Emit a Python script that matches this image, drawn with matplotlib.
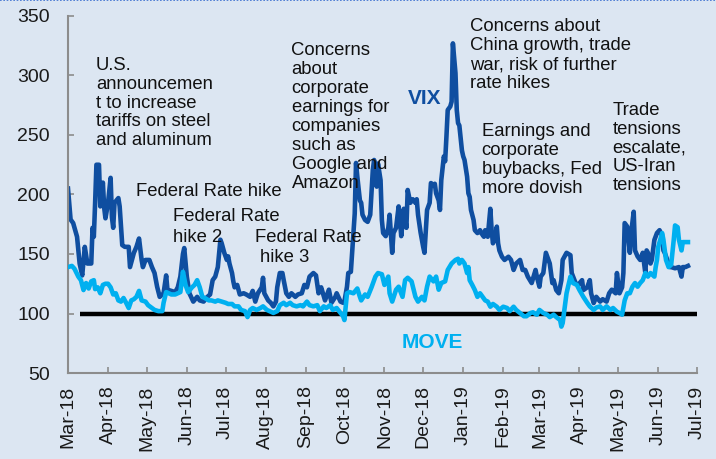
import matplotlib
matplotlib.use("Agg")
import matplotlib.pyplot as plt
import matplotlib.dates as mdates
import pandas as pd
from matplotlib.lines import Line2D

plt.rcParams['font.family'] = ['Liberation Sans', 'DejaVu Sans']

# ---- data (days since 2018-03-01, index value) ----
start = pd.Timestamp('2018-03-01')

vix_days = [0, 2, 4, 7, 9, 11, 13, 15, 18, 19, 20, 21, 22, 24, 25, 27, 28, 29, 31, 33,
            34, 35, 36, 39, 40, 42, 44, 47, 48, 51, 53, 55, 57, 58, 60, 63, 65, 67, 69, 71,
            74, 76, 77, 80, 83, 85, 87, 89, 90, 92, 94, 97, 100, 102, 105, 107, 110, 112, 114, 116,
            118, 119, 121, 123, 124, 125, 127, 128, 129, 131, 133, 136, 138, 141, 143, 145, 147, 150, 151, 152,
            155, 157, 159, 161, 162, 164, 166, 167, 169, 171, 173, 176, 178, 181, 183, 185, 187, 190, 192, 194,
            196, 199, 202, 204, 207, 208, 211, 213, 214, 216, 217, 219, 220, 222, 223, 224, 226, 227, 228, 230,
            232, 234, 236, 237, 239, 240, 242, 243, 244, 246, 248, 249, 251, 252, 254, 256, 257, 258, 260, 262,
            263, 265, 267, 269, 270, 271, 273, 275, 276, 278, 280, 281, 283, 284, 285, 287, 288, 289, 291, 292,
            293, 294, 296, 297, 298, 300, 301, 302, 303, 305, 306, 307, 309, 310, 311, 312, 314, 315, 317, 319,
            320, 322, 323, 325, 327, 328, 329, 331, 332, 333, 334, 336, 338, 341, 343, 345, 347, 350, 352, 354,
            356, 359, 362, 363, 365, 366, 368, 370, 371, 373, 375, 376, 378, 380, 382, 383, 386, 389, 390, 393,
            395, 398, 399, 402, 404, 405, 407, 409, 412, 414, 417, 419, 421, 424, 425, 427, 429, 430, 431, 433,
            435, 436, 438, 439, 441, 443, 445, 447, 448, 449, 451, 452, 454, 456, 458, 460, 461, 462, 464, 466,
            467, 470, 473, 475, 476, 478, 480]
vix_vals = [205, 179, 176, 164.5, 142, 132, 156, 142, 142, 172, 164.5, 193, 225, 225, 190, 210, 189, 180, 193, 214,
            181, 172, 193, 197, 190, 157.5, 156, 156, 139, 151, 156, 163, 145, 139, 145, 145, 139, 134, 122.5, 114,
            117, 132, 120, 119, 118, 122, 131, 150, 155, 131, 117, 110, 114, 111, 110, 113, 116, 128, 131, 139,
            162, 159, 151, 145, 148, 142, 134, 127, 122, 124, 116, 117, 116, 114, 119, 110, 117, 122, 130, 117,
            111, 109, 106, 110, 122, 134, 134, 128, 117, 114, 117, 114, 116, 117, 124, 122, 131, 134, 132, 117,
            122, 111, 120, 109, 114, 117, 110, 109, 110, 122.5, 134, 135, 151, 184, 226.5, 215, 195, 193, 183, 178.6,
            177, 183, 220.6, 229, 206.6, 226, 212, 178.6, 167.6, 165, 172, 183, 151, 167.6, 172, 190, 178.6, 165, 188, 172,
            203.8, 193, 196, 193, 196, 183, 168, 156, 151, 187, 193, 209.6, 208, 209, 201, 195, 187, 212, 232, 228,
            248.6, 271, 274, 278, 327, 302, 271, 260, 258, 237, 232, 229, 215, 201, 198, 187, 178.6, 170, 167.6, 170,
            167.6, 164.5, 170, 164.5, 188, 170, 159, 164.5, 173, 159, 153, 147.7, 145, 147.7, 145, 136.6, 142, 145, 136.6, 136.6,
            131, 125.6, 136.6, 131, 122.5, 131, 134, 151, 148, 142, 125.6, 128, 119.7, 117, 128, 145, 151, 149, 134, 125.6,
            124, 128, 119.7, 122, 128, 117, 108.8, 114, 110, 112, 110, 117, 120, 117, 134, 117, 122, 134, 176, 173,
            151, 167.6, 185.5, 153, 148, 145, 151, 134, 153, 151, 142, 145, 161.8, 167.6, 170, 165, 153, 151, 145, 139,
            139, 138, 139, 131, 139, 139, 140]

move_days = [0, 3, 5, 8, 10, 12, 14, 16, 18, 20, 21, 23, 25, 27, 29, 31, 33, 35, 37, 39,
             41, 43, 45, 47, 49, 51, 53, 55, 57, 60, 62, 65, 67, 70, 73, 74, 76, 78, 80, 83,
             85, 87, 89, 91, 93, 96, 98, 100, 102, 104, 106, 109, 111, 114, 116, 119, 122, 124, 127, 129,
             132, 134, 137, 139, 141, 143, 146, 149, 151, 154, 156, 159, 162, 164, 167, 169, 172, 174, 177, 180,
             182, 185, 187, 190, 193, 195, 198, 200, 203, 205, 208, 211, 213, 214, 216, 218, 221, 224, 226, 227,
             230, 232, 235, 238, 240, 243, 245, 248, 249, 251, 254, 256, 259, 261, 263, 266, 269, 271, 274, 276,
             278, 280, 283, 285, 287, 289, 292, 294, 297, 300, 302, 303, 305, 307, 309, 310, 311, 313, 315, 317,
             319, 321, 323, 325, 327, 329, 332, 334, 337, 340, 342, 345, 347, 350, 353, 355, 358, 360, 363, 365,
             368, 371, 373, 376, 378, 381, 382, 383, 386, 389, 391, 394, 396, 399, 402, 404, 407, 409, 412, 414,
             417, 420, 422, 425, 427, 429, 431, 433, 435, 437, 439, 441, 443, 445, 447, 449, 451, 454, 455, 456,
             457, 460, 461, 463, 465, 467, 469, 470, 472, 473, 475, 476, 478, 480]
move_vals = [139, 140, 137.6, 131, 128, 119.7, 125.6, 121, 127, 128, 120.5, 122, 117, 124, 125, 125, 122, 116, 117, 111,
             110, 113, 109, 104.6, 111, 112, 114, 119, 111, 110, 107, 104.6, 103, 102, 102, 109, 118, 117, 116, 116,
             117, 118, 135, 124, 118, 122, 124, 128, 122, 114, 113, 111, 111, 110, 111, 110, 109, 108, 108, 106,
             106, 103, 102, 97, 103, 104.6, 103, 104.6, 106, 103, 102, 100.5, 102, 107, 109, 107, 109, 107, 106, 107,
             106, 110, 107, 106, 107, 102, 106, 104.6, 107, 103, 104.6, 100.5, 97.7, 94.5, 117, 118, 117, 121, 114, 111,
             116, 114, 122, 131, 134, 133, 124, 131, 117, 110, 120, 122.5, 114, 128, 130, 127, 114, 110, 114, 111,
             122.5, 131, 127, 131, 120, 125.6, 127, 136.6, 142, 145, 146, 142, 145, 142, 134, 139, 128, 124, 119.7, 114,
             117, 114, 111, 110, 105.7, 108, 105.7, 103, 105.7, 104.6, 102, 105.7, 103, 100.4, 97.7, 97.7, 100.4, 101, 99, 103,
             100.4, 99, 97, 99, 97, 94.5, 89, 92, 117, 131, 125.6, 124, 119.7, 114, 109, 106, 103, 105, 106, 103,
             106, 103, 104.6, 101.5, 100.4, 99, 111, 117, 117, 122.5, 125.6, 122.5, 125.6, 128, 134, 131, 134, 131, 139, 145,
             156, 167.6, 162, 145, 139, 141, 162, 174, 172.5, 162, 153, 160, 160, 160]

ref_level = 100
ref_start_day = 9
month_ticks = pd.date_range('2018-03-01', '2019-07-01', freq='MS')

vix_dates = start + pd.to_timedelta(vix_days, unit='D')
move_dates = start + pd.to_timedelta(move_days, unit='D')

# ---- styling ----
bg = '#dce6f2'
vix_color = '#0f4ea0'
move_color = '#00b0f0'

fig = plt.figure(figsize=(7.16, 4.59), dpi=100, facecolor=bg)
ax = fig.add_axes([68/716, 1 - 373/459, 629/716, 357/459])
ax.set_facecolor(bg)

ax.plot([start + pd.Timedelta(days=ref_start_day), month_ticks[-1]], [ref_level, ref_level],
        color='black', lw=3.2, solid_capstyle='butt', zorder=1)
ax.plot(vix_dates, vix_vals, color=vix_color, lw=3.3, zorder=2, solid_joinstyle='round')
ax.plot(move_dates, move_vals, color=move_color, lw=3.3, zorder=3, solid_joinstyle='round')

ax.set_xlim(month_ticks[0], month_ticks[-1])
ax.set_ylim(50, 350)
ax.set_yticks(range(50, 351, 50))
ax.set_xticks(month_ticks)
ax.xaxis.set_major_formatter(mdates.DateFormatter('%b-%y'))

for s in ['top', 'right']:
    ax.spines[s].set_visible(False)
for s in ['left', 'bottom']:
    ax.spines[s].set_color('#8c8c8c')
    ax.spines[s].set_linewidth(1.5)

ax.tick_params(axis='both', direction='in', length=4, width=1.2, color='#8c8c8c',
               labelsize=14, labelcolor='#1a1a1a')
ax.tick_params(axis='y', pad=13)
ax.tick_params(axis='x', pad=9, labelrotation=90)

# ---- annotations ----
def ftext(px, py, s, **kw):
    fig.text(px/716, 1 - py/459, s, **kw)

kw = dict(fontsize=13.3, color='#111111', va='center', ha='left', linespacing=1.15)
ftext(96, 103, "U.S.\nannouncemen\nt to increase\ntariffs on steel\nand aluminum", **kw)
ftext(291.5, 117, "Concerns\nabout\ncorporate\nearnings for\ncompanies\nsuch as\nGoogle and\nAmazon", **kw)
ftext(136, 191.7, "Federal Rate hike", **kw)
ftext(173.3, 216.7, "Federal Rate", **kw)
ftext(173.3, 237.3, "hike 2", **kw)
ftext(255, 237.3, "Federal Rate", **kw)
ftext(260, 257.3, "hike 3", **kw)
ftext(470, 55.3, "Concerns about\nChina growth, trade\nwar, risk of further\nrate hikes", **kw)
ftext(481.7, 160, "Earnings and\ncorporate\nbuybacks, Fed\nmore dovish", **kw)
ftext(612.3, 148, "Trade\ntensions\nescalate,\nUS-Iran\ntensions", **kw)
ftext(425, 98, "VIX", fontsize=15, fontweight='bold', color=vix_color, ha='center', va='center')
ftext(432, 342, "MOVE", fontsize=15, fontweight='bold', color=move_color, ha='center', va='center')

# dotted top border
fig.add_artist(Line2D([0, 1], [0.999, 0.999], transform=fig.transFigure,
                      color='#3a6fd0', lw=1.2, ls=(0, (1, 1))))

fig.savefig('out.png', dpi=100, facecolor=bg)
